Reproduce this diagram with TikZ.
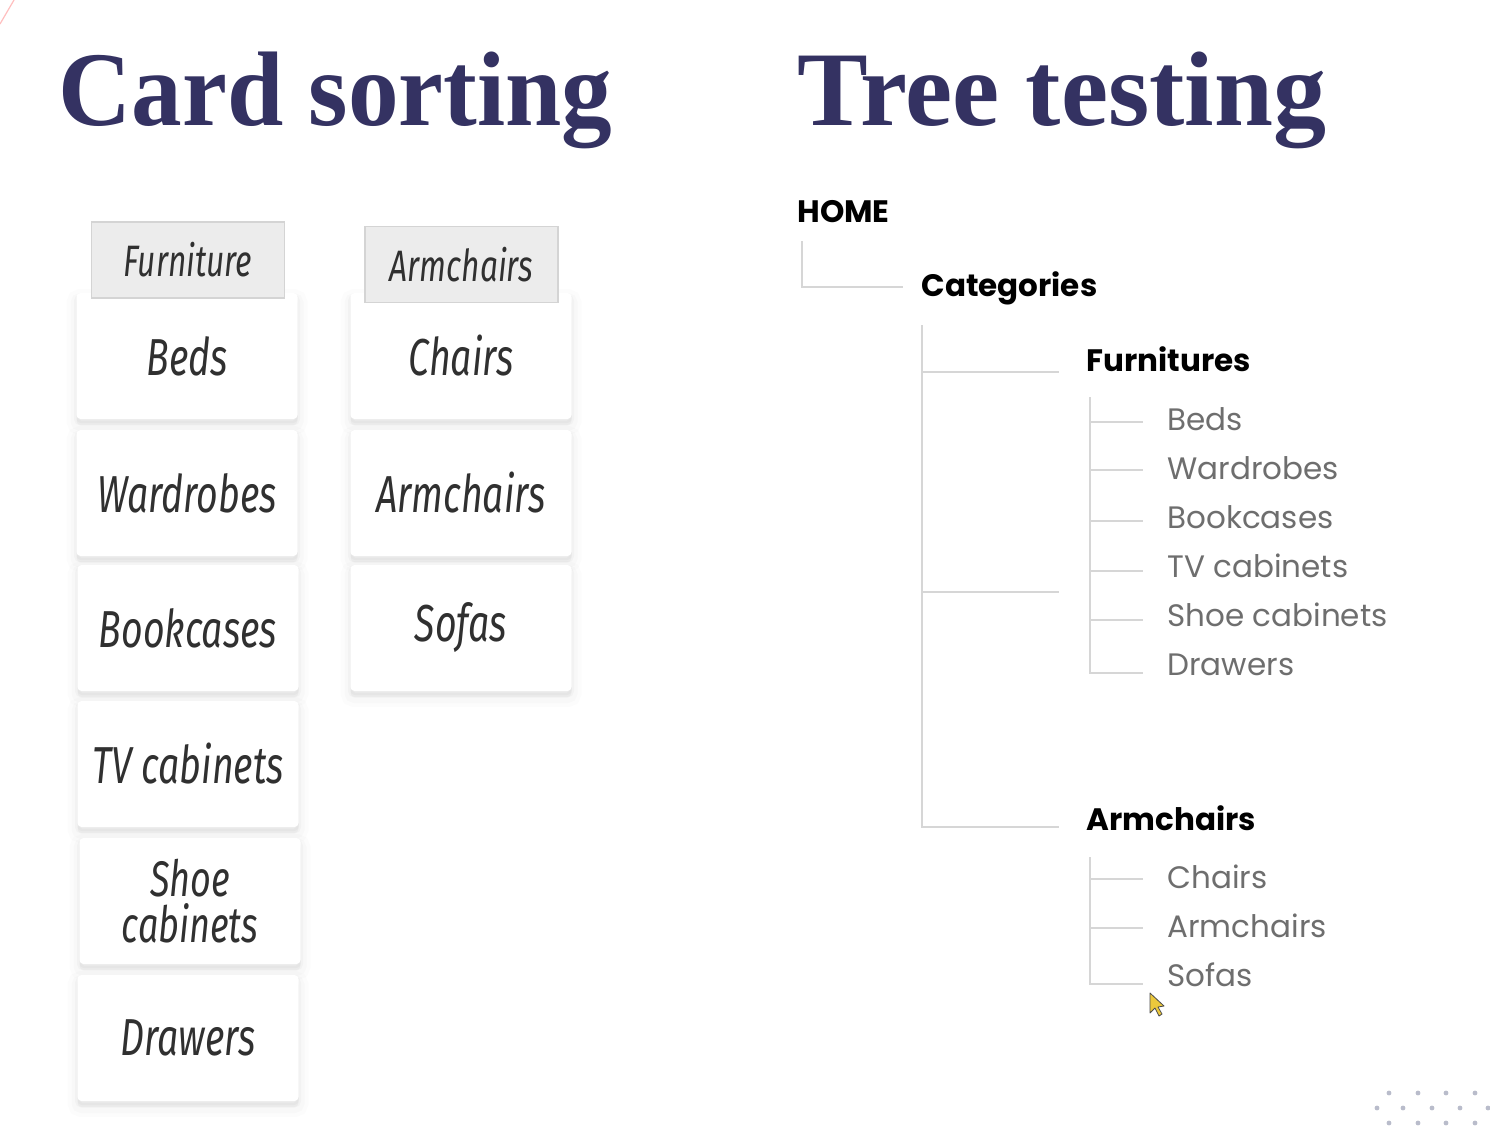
\documentclass[tikz,border=0pt]{standalone}
\usepackage{fontspec}
\usetikzlibrary{shadows}
\newfontfamily\titlefont{Liberation Serif}
\newfontfamily\handfont{Fira Sans}[FakeStretch=0.72]
\newfontfamily\treefont{Poppins}

\definecolor{navy}{RGB}{52,50,98}
\definecolor{ink}{RGB}{48,48,48}
\definecolor{linegrey}{RGB}{214,214,214}
\definecolor{leafgrey}{RGB}{110,110,110}
\definecolor{hdrfill}{RGB}{236,236,236}
\definecolor{hdrline}{RGB}{212,212,212}
\definecolor{dotgrey}{RGB}{185,188,203}
\definecolor{cursoryellow}{RGB}{236,200,60}

\tikzset{
  title/.style={anchor=base west, inner sep=0pt, text=navy,
    font=\titlefont\bfseries\fontsize{53}{60}\selectfont},
  card/.style={fill=white, minimum width=110.5pt, minimum height=63pt,
    rounded corners=2pt, inner sep=0pt, align=center, text=ink,
    font=\handfont\itshape\fontsize{26}{22}\selectfont,
    general shadow={fill=black, draw=black, line width=10pt, opacity=0.012, shadow yshift=-3pt},
    general shadow={fill=black, draw=black, line width=6pt, opacity=0.016, shadow yshift=-3pt},
    general shadow={fill=black, draw=black, line width=2.5pt, opacity=0.022, shadow yshift=-2pt}},
  header/.style={fill=hdrfill, draw=hdrline, line width=0.8pt,
    minimum width=96.5pt, minimum height=38pt, inner sep=0pt, text=ink,
    font=\handfont\itshape\fontsize{22}{24}\selectfont},
  treebold/.style={anchor=base west, inner sep=0pt, text=black,
    font=\treefont\bfseries\fontsize{15.5}{18}\selectfont},
  leaf/.style={anchor=base west, inner sep=0pt, text=leafgrey,
    font=\treefont\fontsize{15.5}{18}\selectfont},
  branch/.style={draw=linegrey, line width=1.2pt},
}

\begin{document}
\begin{tikzpicture}[x=0.5pt,y=-0.5pt]
  \fill[white] (0,0) rectangle (1490,1132);
  \useasboundingbox (0,0) rectangle (1490,1132);

  % faint pen stroke in the corner
  \draw[red!25, line width=0.6pt] (0,24) -- (14,0);

  % titles
  \node[title] (cstitle) at (58,125) {\scalebox{0.955}[1]{Card sorting}};
  \node[title] (tttitle) at (797,125) {Tree testing};

  % ---- card sorting: first pile ----
  \node[card] (beds)   at (187,356)  {Beds};
  \node[card] (ward)   at (187,493)  {Wardrobes};
  \node[card] (book)   at (188,628)  {Bookcases};
  \node[card] (tv)     at (188,764)  {TV cabinets};
  \node[card, font=\handfont\itshape\fontsize{25}{23}\selectfont]
               (shoe)  at (190,901)  {Shoe\\cabinets};
  \node[card] (draw)   at (188,1038) {Drawers};
  \node[header] (hfurn) at (188,260) {Furniture};

  % ---- card sorting: second pile ----
  \node[card] (chairs) at (461,356) {Chairs};
  \node[card] (arm)    at (461,493) {Armchairs};
  \node[card] (sofas)  at (461,628) {Sofas};
  \node[header] (harm) at (461.5,264.5) {Armchairs};

  % ---- tree testing ----
  \node[treebold] (home) at (797,222) {HOME};
  \node[treebold] (cat)  at (921,296) {Categories};
  \node[treebold] (furn) at (1086,371) {Furnitures};
  \node[treebold] (armc) at (1086,830) {Armchairs};

  \node[leaf] (lbeds)  at (1167,430) {Beds};
  \node[leaf] (lward)  at (1167,479) {Wardrobes};
  \node[leaf] (lbook)  at (1167,528) {Bookcases};
  \node[leaf] (ltv)    at (1167,577) {TV cabinets};
  \node[leaf] (lshoe)  at (1167,626) {Shoe cabinets};
  \node[leaf] (ldraw)  at (1167,675) {Drawers};

  \node[leaf] (lchair) at (1167,888) {Chairs};
  \node[leaf] (larm)   at (1167,937) {Armchairs};
  \node[leaf] (lsofa)  at (1167,986) {Sofas};

  % branch end points
  \coordinate (homeroot) at (802,241);
  \coordinate (catin)    at (903,287);
  \coordinate (catroot)  at (922,325);
  \coordinate (furnin)   at (1059,372);
  \coordinate (midin)    at (1059,592);
  \coordinate (armin)    at (1059,827);
  \coordinate (furnroot) at (1090,397);
  \coordinate (armroot)  at (1090,857);

  \draw[branch] (homeroot) |- (catin);
  \draw[branch] (catroot) |- (armin);
  \draw[branch] (catroot |- furnin) -- (furnin);
  \draw[branch] (catroot |- midin) -- (midin);

  \draw[branch] (furnroot) |- (1143,673);
  \foreach \yy in {422,470,521,571,620}
    \draw[branch] (1090,\yy) -- (1143,\yy);

  \draw[branch] (armroot) |- (1143,984);
  \foreach \yy in {879,928}
    \draw[branch] (1090,\yy) -- (1143,\yy);

  % mouse pointer
  \draw[fill=cursoryellow, draw=black!70, line width=0.4pt, line join=round]
    (1150,993) -- (1150,1013) -- (1155,1008) -- (1159,1016) -- (1162,1014)
    -- (1158,1007) -- (1164,1006) -- cycle;

  % dotted corner pattern
  \foreach \xx in {1389,1418,1446,1475} {
    \fill[dotgrey] (\xx,1093) circle (1.2pt);
    \fill[dotgrey] (\xx,1123) circle (1.2pt);
  }
  \foreach \xx in {1377,1403,1432,1460,1488}
    \fill[dotgrey] (\xx,1108) circle (1.2pt);
\end{tikzpicture}
\end{document}
